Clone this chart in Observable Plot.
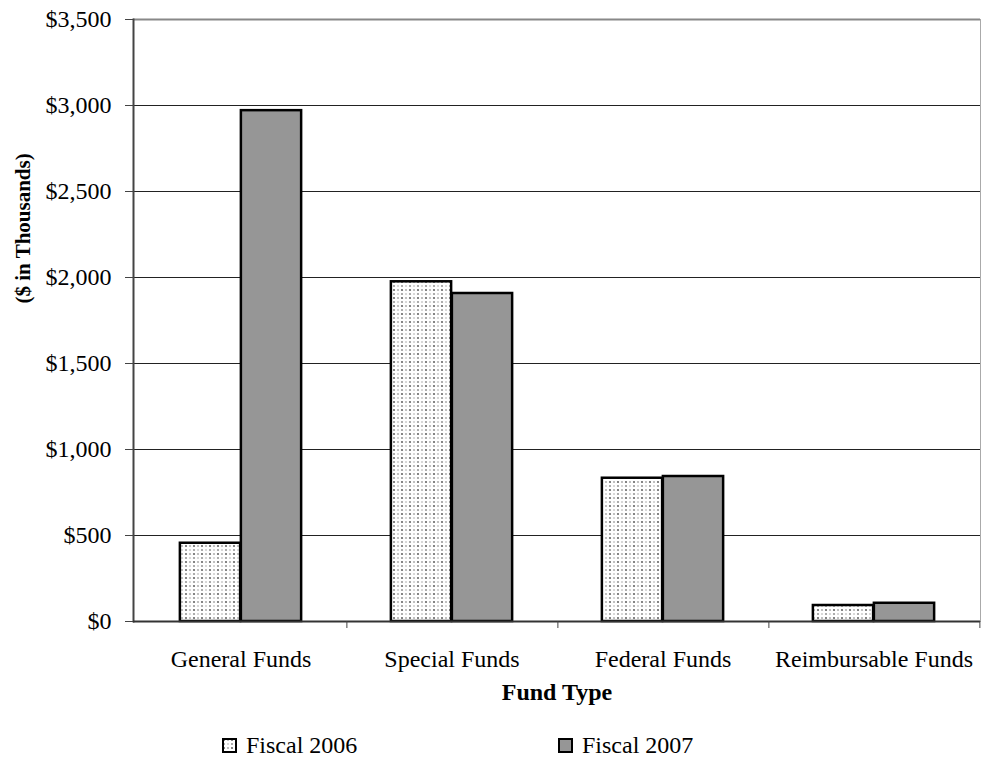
<!DOCTYPE html>
<html>
<head>
<meta charset="utf-8">
<script src="https://cdn.jsdelivr.net/npm/d3@7"></script>
<script src="https://cdn.jsdelivr.net/npm/@observablehq/plot@0.6"></script>
<style>
  html, body { margin: 0; padding: 0; background: #fff; overflow: hidden; }
  #wrap { position: relative; width: 981px; height: 759px; font-family: "Liberation Serif", "Times New Roman", serif; }
  .legend-item { position: absolute; top: 733px; height: 24px; line-height: 24px; display: flex; align-items: center; font-size: 24px; color: #000; white-space: nowrap; }
  .legend-item svg { margin-right: 9px; }
</style>
</head>
<body>
<svg width="0" height="0" style="position:absolute">
  <defs>
    <pattern id="dots" patternUnits="userSpaceOnUse" width="8" height="8">
      <rect width="8" height="8" fill="#ffffff"/>
      <circle cx="2" cy="2" r="1.1" fill="#666"/>
      <circle cx="6" cy="2" r="1.1" fill="#b0b0b0"/>
      <circle cx="2" cy="6" r="1.1" fill="#999"/>
      <circle cx="6" cy="6" r="1.1" fill="#cfcfcf"/>
    </pattern>
  </defs>
</svg>
<div id="wrap">
  <div id="chart"></div>
  <div class="legend-item" style="left:222px"><svg width="15" height="15"><rect x="1" y="1" width="13" height="13" fill="url(#dots)" stroke="#000" stroke-width="2"/></svg>Fiscal 2006</div>
  <div class="legend-item" style="left:558px"><svg width="15" height="15"><rect x="1" y="1" width="13" height="13" fill="#969696" stroke="#000" stroke-width="2"/></svg>Fiscal 2007</div>
</div>
<script>
const categories = ["General Funds", "Special Funds", "Federal Funds", "Reimbursable Funds"];
const seriesNames = ["Fiscal 2006", "Fiscal 2007"];
const fiscal2006 = [455, 1975, 833, 93];
const fiscal2007 = [2970, 1907, 843, 106];
const yTicks = [0, 500, 1000, 1500, 2000, 2500, 3000, 3500];

const rows2006 = categories.map((c, i) => ({category: c, series: seriesNames[0], value: fiscal2006[i]}));
const rows2007 = categories.map((c, i) => ({category: c, series: seriesNames[1], value: fiscal2007[i]}));

const W = 981, H = 712;
const mL = 133, mR = 1, mT = 19, mB = 91;
const band = (W - mL - mR) / categories.length;
const barW = 61;

const chart = Plot.plot({
  width: W,
  height: H,
  marginLeft: mL,
  marginRight: mR,
  marginTop: mT,
  marginBottom: mB,
  style: {fontFamily: "'Liberation Serif', 'Times New Roman', serif", fontSize: "24px", color: "#000", background: "#fff"},
  x: {domain: categories, padding: 0, axis: null},
  y: {domain: [0, 3500], axis: null},
  marks: [
    Plot.gridY(yTicks, {stroke: "#222", strokeOpacity: 1, strokeWidth: 1}),
    Plot.barY(rows2006, {x: "category", y: "value", fill: "url(#dots)", stroke: "#000", strokeWidth: 2.5,
      insetLeft: band / 2 - barW, insetRight: band / 2}),
    Plot.barY(rows2007, {x: "category", y: "value", fill: "#969696", stroke: "#000", strokeWidth: 2.5,
      insetLeft: band / 2, insetRight: band / 2 - barW}),
    Plot.ruleY([3500], {stroke: "#888", strokeWidth: 2}),
    Plot.frame({anchor: "right", stroke: "#aaa", strokeWidth: 1}),
    Plot.frame({anchor: "left", stroke: "#444", strokeWidth: 2}),
    Plot.ruleY([0], {stroke: "#333", strokeWidth: 2}),
    Plot.axisY({ticks: yTicks, tickSize: 8, tickPadding: 14, tickFormat: d3.format("$,"), label: null, stroke: "#444", fontSize: 24}),
    Plot.axisX({tickSize: 0, tickPadding: 28, label: null, fontSize: 24}),
    Plot.axisX({tickSize: 7, tickFormat: () => "", label: null, dx: band / 2, stroke: "#444"}),
    Plot.text(["Fund Type"], {text: d => d, frameAnchor: "bottom", dy: 78, lineAnchor: "bottom", fontWeight: "bold", fontSize: 24}),
    Plot.text(["($ in Thousands)"], {text: d => d, frameAnchor: "left", rotate: -90, dx: -110, dy: -17, fontWeight: "bold", fontSize: 21})
  ]
});
document.getElementById("chart").appendChild(chart);
</script>
</body>
</html>
